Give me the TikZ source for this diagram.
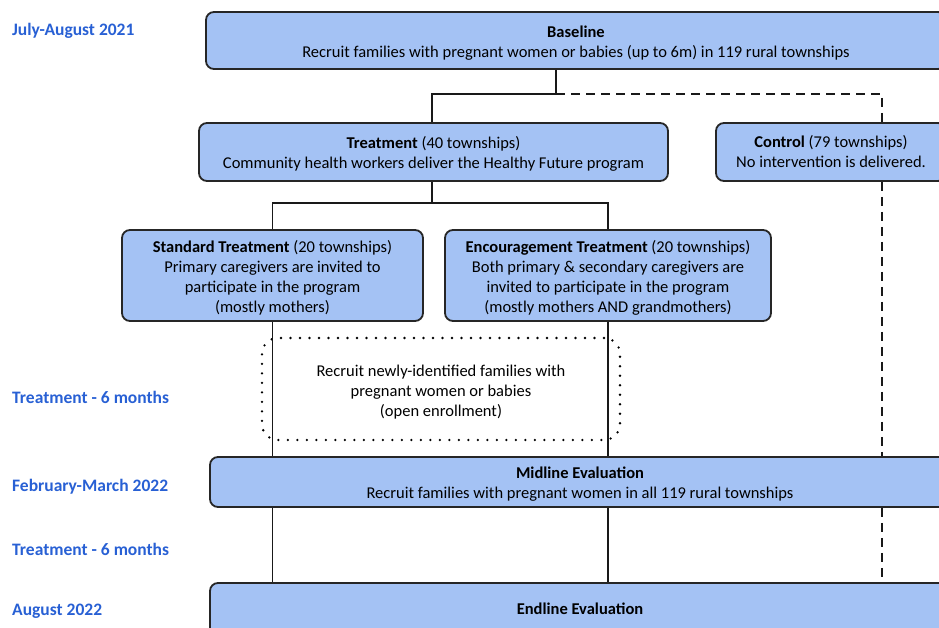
\documentclass[tikz,border=0pt]{standalone}
\usepackage{fontspec}
\setmainfont{Carlito}
\usepackage{tikz}
\definecolor{boxblue}{RGB}{164,194,244}
\definecolor{datelabel}{RGB}{40,96,212}
\newcommand{\boxhead}[1]{\rule{0pt}{16pt}\textbf{#1}}

\begin{document}
\begin{tikzpicture}[
    x=1pt, y=-1pt,
    every node/.style={font=\fontsize{16.5}{20}\selectfont},
    block/.style={draw=black!85, line width=1.8pt, rectangle, rounded corners=8pt, fill=boxblue, align=center, inner sep=0pt},
    openbox/.style={draw=black, line width=2.6pt, dash pattern=on 0pt off 9.5pt, line cap=round, rounded corners=16pt, align=center, inner sep=0pt},
    date/.style={anchor=west, inner sep=0pt, text=datelabel, font=\fontsize{17.5}{20}\selectfont\bfseries},
    link/.style={line width=1.8pt, black!90},
    ctrllink/.style={line width=1.8pt, black!90, dash pattern=on 9pt off 6pt}
]
    \useasboundingbox (0,0) rectangle (939,628);
    \clip (0,0) rectangle (939,628);

    % Dates
    \node[date] (d1) at (12,31) {July-August 2021};
    \node[date] (d2) at (12,397) {Treatment - 6 months};
    \node[date] (d3) at (12,487) {February-March 2022};
    \node[date] (d4) at (12,549) {Treatment - 6 months};
    \node[date] (d5) at (12,611) {August 2022};

    % Boxes
    \node[block, minimum width=740pt, minimum height=57pt] (base) at (576,40.5) {\boxhead{Baseline}\\Recruit families with pregnant women or babies (up to 6m) in 119 rural townships};
    \node[block, minimum width=469pt, minimum height=58pt] (treat) at (433.5,152) {\boxhead{Treatment} (40 townships)\\Community health workers deliver the Healthy Future program};
    \node[block, minimum width=230pt, minimum height=58pt] (ctrl) at (831,152) {\textbf{Control} (79 townships)\\No intervention is delivered.};
    \node[block, minimum width=301pt, minimum height=91pt] (std) at (272.5,275.5) {\boxhead{Standard Treatment} (20 townships)\\Primary caregivers are invited to\\participate in the program\\(mostly mothers)};
    \node[block, minimum width=326pt, minimum height=91pt] (enc) at (608,275.5) {\boxhead{Encouragement Treatment} (20 townships)\\Both primary \& secondary caregivers are\\invited to participate in the program\\(mostly mothers AND grandmothers)};
    \node[openbox, minimum width=358pt, minimum height=102pt] (open) at (441,389) {\rule{0pt}{18pt}Recruit newly-identified families with\\pregnant women or babies\\(open enrollment)};
    \node[block, minimum width=740pt, minimum height=50pt] (mid) at (580,482) {\boxhead{Midline Evaluation}\\Recruit families with pregnant women in all 119 rural townships};
    \node[block, minimum width=740pt, minimum height=56pt] (end) at (580,611) {\raisebox{4pt}{\textbf{Endline Evaluation}}};

    % Split points
    \coordinate (split) at (556,94);
    \coordinate (cx) at (882,94);
    \coordinate (fork) at (432,203);

    % Treatment arm
    \draw[link] (split |- base.south) -- (split) -| (fork |- treat.north);
    \draw[link] (fork |- treat.south) -- (fork);
    \draw[link] (std.north) |- (fork) -| (enc.north);
    \draw[link] (std.south) -- (std.south |- mid.north);
    \draw[link] (enc.south) -- (enc.south |- mid.north);
    \draw[link] (std.south |- mid.south) -- (std.south |- end.north);
    \draw[link] (enc.south |- mid.south) -- (enc.south |- end.north);

    % Control arm
    \draw[ctrllink] (split) -- (cx) -- (cx |- ctrl.north);
    \draw[ctrllink] (cx |- ctrl.south) -- (cx |- mid.north);
    \draw[ctrllink, shorten >=5pt] (cx |- mid.south) -- (cx |- end.north);

\end{tikzpicture}
\end{document}
